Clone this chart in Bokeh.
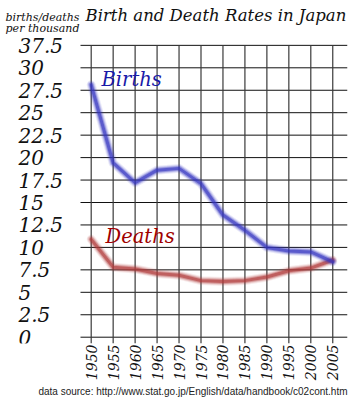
import math
from bokeh.plotting import figure
from bokeh.models import Range1d, FixedTicker, ColumnDataSource, Title
from bokeh.core.properties import value
from bokeh.embed import file_html
from bokeh.resources import INLINE

years = [1950, 1955, 1960, 1965, 1970, 1975, 1980, 1985, 1990, 1995, 2000, 2005]
births = [28.1, 19.4, 17.2, 18.6, 18.8, 17.1, 13.6, 11.9, 10.0, 9.6, 9.5, 8.4]
deaths = [10.9, 7.8, 7.6, 7.1, 6.9, 6.3, 6.2, 6.3, 6.7, 7.4, 7.7, 8.6]
y_ticks = [0, 2.5, 5, 7.5, 10, 12.5, 15, 17.5, 20, 22.5, 25, 27.5, 30, 32.5]
y_tick_labels = ["0", "2.5", "5", "7.5", "10", "12.5", "15", "17.5", "20",
                 "22.5", "25", "27.5", "30", "37.5"]
series_names = ["Births", "Deaths"]
title_text = "Birth and Death Rates in Japan"
unit_lines = ["births/deaths", "per thousand"]
source_text = "data source: http://www.stat.go.jp/English/data/handbook/c02cont.htm"

SERIF = "DejaVu Serif"

# chart-area geometry (px) -> data mapping
X_PER_PX = 5.0 / 21.96          # years per pixel
Y_PER_PX = 2.5 / 22.45          # units per pixel
X1950_PX, Y0_PX = 90.7, 336.7   # pixel of 1950 and of value 0
FRAME_BOTTOM_PX, FRAME_RIGHT_PX = 343, 347
AREA_LEFT_PX = 80


def xd(px):
    return 1950 + (px - X1950_PX) * X_PER_PX


def yd(py):
    return (Y0_PX - py) * Y_PER_PX


p = figure(width=364, height=400, output_backend="svg", toolbar_location=None,
           x_range=Range1d(xd(0), xd(FRAME_RIGHT_PX)),
           y_range=Range1d(yd(FRAME_BOTTOM_PX), yd(0)),
           min_border_left=0, min_border_right=364 - FRAME_RIGHT_PX,
           min_border_top=0, min_border_bottom=400 - FRAME_BOTTOM_PX)
p.outline_line_color = None
p.background_fill_color = "white"
p.border_fill_color = "white"
p.grid.visible = False
p.yaxis.visible = False

# x axis (real axis, tick labels rotated)
p.xaxis.ticker = FixedTicker(ticks=years)
p.xaxis.axis_line_color = None
p.xaxis.major_tick_line_color = None
p.xaxis.minor_tick_line_color = None
p.xaxis.major_tick_out = 0
p.xaxis.major_tick_in = 0
p.xaxis.minor_tick_out = 0
p.xaxis.minor_tick_in = 0
p.xaxis.major_label_orientation = math.pi / 2
p.xaxis.major_label_standoff = 1
p.xaxis.major_label_text_font = SERIF
p.xaxis.major_label_text_font_style = "italic"
p.xaxis.major_label_text_font_size = "14px"
p.xaxis.major_label_text_color = "#111111"

# grid lines
x_left, x_right = xd(AREA_LEFT_PX), xd(FRAME_RIGHT_PX)
y_bottom, y_top = yd(FRAME_BOTTOM_PX), max(y_ticks)
p.segment(x0=x_left, x1=x_right, y0=y_ticks, y1=y_ticks,
          line_color="#111111", line_width=1)
p.segment(x0=years, x1=years, y0=y_bottom, y1=y_top,
          line_color="#3a3a3a", line_width=1.2)


def soft_line(xs, ys, color):
    src = ColumnDataSource(dict(x=xs, y=ys))
    for w, a in [(9, 0.10), (7, 0.18), (5, 0.35), (3, 0.6)]:
        p.line("x", "y", source=src, line_color=color, line_width=w,
               line_alpha=a, line_join="round", line_cap="round")


soft_line(years, deaths, "#b03a3a")
soft_line(years, births, "#3434c0")

lab_src = ColumnDataSource(dict(x=[xd(101), xd(105)], y=[yd(79), yd(236)],
                                t=series_names, c=["#1a1aa8", "#a00000"]))
p.text("x", "y", text="t", source=lab_src, text_color="c",
       text_font=value(SERIF), text_font_style="italic", text_font_size="19.5px",
       text_align="left", text_baseline="middle")

# y tick labels, left aligned
tick_src = ColumnDataSource(dict(x=[xd(18)] * len(y_ticks), y=y_ticks, t=y_tick_labels))
p.text("x", "y", text="t", source=tick_src, text_color="#111111",
       text_font=value(SERIF), text_font_style="italic", text_font_size="20px",
       text_align="left", text_baseline="middle")

# unit text
unit_src = ColumnDataSource(dict(x=[xd(42), xd(42)], y=[yd(16.5), yd(27.5)],
                                 t=unit_lines))
p.text("x", "y", text="t", source=unit_src, text_color="#111111",
       text_font=value(SERIF), text_font_style="italic", text_font_size="11px",
       text_align="center", text_baseline="middle")

# title
title_src = ColumnDataSource(dict(x=[xd(85)], y=[yd(15)], t=[title_text]))
p.text("x", "y", text="t", source=title_src, text_color="#111111",
       text_font=value(SERIF), text_font_style="italic", text_font_size="16.5px",
       text_align="left", text_baseline="middle")

# footer (below the axis)
p.add_layout(Title(text=source_text, text_font="Liberation Sans",
                   text_font_size="10px", text_font_style="normal",
                   text_color="#222222", align="right", standoff=1), "below")

open("out.html", "w").write(file_html(p, INLINE))
